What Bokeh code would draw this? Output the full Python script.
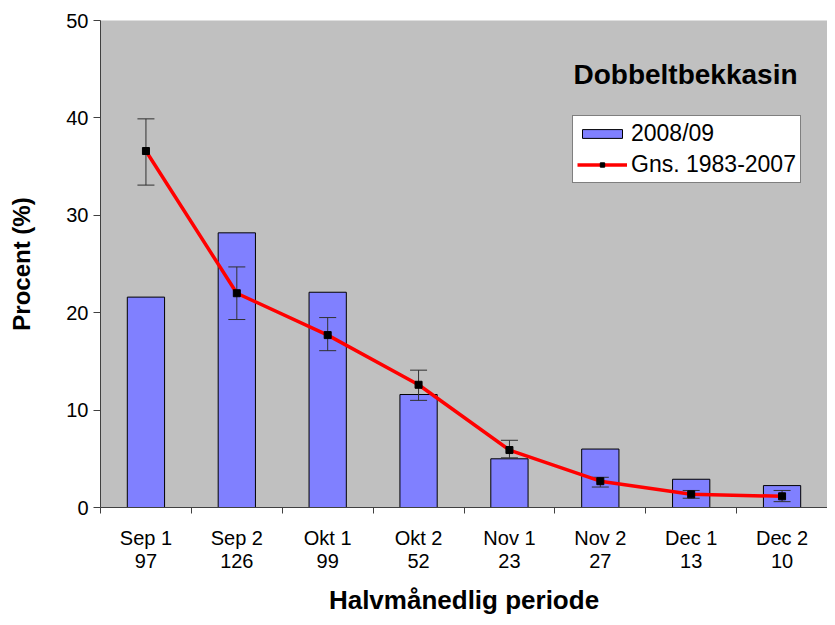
from bokeh.plotting import figure
from bokeh.models import (ColumnDataSource, FixedTicker, LinearAxis, Range1d,
                          Legend, LegendItem, Label)
from bokeh.embed import file_html
from bokeh.resources import INLINE

periods = ["Sep 1", "Sep 2", "Okt 1", "Okt 2", "Nov 1", "Nov 2", "Dec 1", "Dec 2"]
counts = [97, 126, 99, 52, 23, 27, 13, 10]
share_2008 = [21.6, 28.2, 22.1, 11.6, 5.0, 6.0, 2.9, 2.25]
mean_1983_2007 = [36.6, 22.0, 17.7, 12.6, 5.9, 2.7, 1.35, 1.15]
err_upper = [39.9, 24.7, 19.5, 14.1, 6.9, 3.1, 1.75, 1.75]
err_lower = [33.1, 19.3, 16.1, 11.0, 5.1, 2.1, 0.95, 0.6]
y_ticks = [0, 10, 20, 30, 40, 50]

FONT = "Liberation Sans"
centers = [i + 0.5 for i in range(len(periods))]
src = ColumnDataSource(dict(x=centers, share=share_2008, mean=mean_1983_2007,
                            up=err_upper, lo=err_lower))

p = figure(width=827, height=617, output_backend="svg", toolbar_location=None,
           x_range=Range1d(0, len(periods)), y_range=Range1d(0, 50),
           min_border_left=100, min_border_right=0, min_border_top=20, min_border_bottom=4,
           x_axis_location=None, y_axis_location=None)
p.background_fill_color = "#C0C0C0"
p.border_fill_color = "white"
p.outline_line_color = None
p.xgrid.grid_line_color = None
p.ygrid.grid_line_color = None

# y axis
yax = LinearAxis(ticker=FixedTicker(ticks=y_ticks), axis_label="Procent (%)")
yax.axis_line_color = "#404040"
yax.major_tick_line_color = "#404040"
yax.major_tick_out = 7
yax.major_tick_in = 0
yax.minor_tick_line_color = None
yax.major_label_text_font = FONT
yax.major_label_text_font_size = "20px"
yax.major_label_text_color = "black"
yax.major_label_standoff = 5
yax.axis_label_text_font = FONT
yax.axis_label_text_font_size = "24px"
yax.axis_label_text_font_style = "bold"
yax.axis_label_text_color = "black"
yax.axis_label_standoff = 28
p.add_layout(yax, "left")

# x axis: period labels
xax = LinearAxis(ticker=FixedTicker(ticks=centers, minor_ticks=list(range(len(periods) + 1))))
xax.major_label_overrides = {c: lab for c, lab in zip(centers, periods)}
xax.axis_line_color = "#404040"
xax.major_tick_line_color = None
xax.major_tick_out = 0
xax.major_tick_in = 0
xax.minor_tick_line_color = "#404040"
xax.minor_tick_out = 6
xax.minor_tick_in = 0
xax.major_label_text_font = FONT
xax.major_label_text_font_size = "20px"
xax.major_label_text_color = "black"
xax.major_label_standoff = 13
p.add_layout(xax, "below")

# x axis: counts
xax2 = LinearAxis(ticker=FixedTicker(ticks=centers), axis_label="Halvmånedlig periode")
xax2.major_label_overrides = {c: str(n) for c, n in zip(centers, counts)}
xax2.axis_line_color = None
xax2.major_tick_line_color = None
xax2.minor_tick_line_color = None
xax2.major_tick_out = 0
xax2.major_label_text_font = FONT
xax2.major_label_text_font_size = "20px"
xax2.major_label_text_color = "black"
xax2.major_label_standoff = 2
xax2.axis_label_text_font = FONT
xax2.axis_label_text_font_size = "26px"
xax2.axis_label_text_font_style = "bold"
xax2.axis_label_text_color = "black"
xax2.axis_label_standoff = 14
p.add_layout(xax2, "below")

bars = p.vbar(x="x", top="share", width=0.41, source=src,
              fill_color="#8080FF", line_color="black", line_width=1)

# error bars
p.segment(x0="x", y0="lo", x1="x", y1="up", source=src, line_color="#303030", line_width=1)
p.scatter(x="x", y="up", source=src, marker="dash", size=17, line_color="#303030", line_width=1)
p.scatter(x="x", y="lo", source=src, marker="dash", size=17, line_color="#303030", line_width=1)

ln = p.line(x="x", y="mean", source=src, line_color="#FF0000", line_width=3.5)
pts = p.scatter(x="x", y="mean", source=src, marker="square", size=7,
                fill_color="black", line_color="black")

p.add_layout(Label(x=585, y=433, x_units="screen", y_units="screen",
                   text="Dobbeltbekkasin", text_font=FONT, text_font_size="28px",
                   text_font_style="bold", text_baseline="middle", text_align="center",
                   text_color="black"))

legend = Legend(items=[LegendItem(label="2008/09", renderers=[bars]),
                       LegendItem(label="Gns. 1983-2007", renderers=[ln, pts])],
                location=(472, 324))
legend.background_fill_color = "white"
legend.background_fill_alpha = 1
legend.border_line_color = "black"
legend.border_line_width = 1
legend.label_text_font = FONT
legend.label_text_font_size = "23px"
legend.label_text_color = "black"
legend.glyph_width = 50
legend.glyph_height = 11
legend.label_height = 20
legend.padding = 4
legend.spacing = 4
legend.margin = 0
legend.label_standoff = 4
p.add_layout(legend, "center")

open("out.html", "w").write(file_html(p, INLINE))
